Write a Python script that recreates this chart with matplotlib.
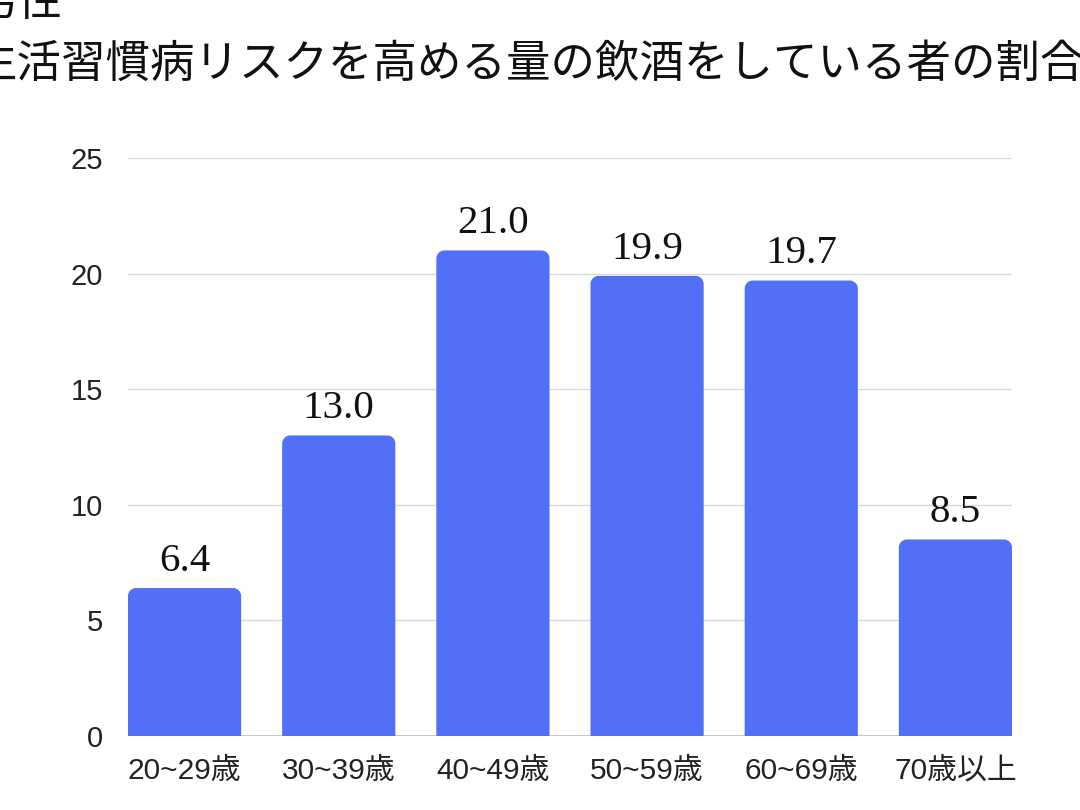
import matplotlib
matplotlib.use("Agg")
import matplotlib.pyplot as plt
from matplotlib.path import Path
from matplotlib.patches import PathPatch

categories = ["20~29歳", "30~39歳", "40~49歳", "50~59歳", "60~69歳", "70歳以上"]
values = [6.4, 13.0, 21.0, 19.9, 19.7, 8.5]
yticks = [0, 5, 10, 15, 20, 25]
title_line1 = "男性"
title_line2 = "生活習慣病リスクを高める量の飲酒をしている者の割合"

BAR_COLOR = "#5170F6"
W, H = 1080, 810
fig = plt.figure(figsize=(W / 100, H / 100), dpi=100)
fig.patch.set_facecolor("white")

left, right, bottom, top = 128, 1012, 736, 158
ax = fig.add_axes([left / W, (H - bottom) / H, (right - left) / W, (bottom - top) / H])

x = list(range(len(categories)))
bars = ax.bar(x, values, width=0.734, color=BAR_COLOR, zorder=2)
ax.set_xlim(-0.367, len(categories) - 1 + 0.367)
ax.set_ylim(0, 25)

# rounded top corners
px_per_x = (right - left) / (len(categories) - 1 + 0.734)
px_per_y = (bottom - top) / 25.0
rpx = 8
rx = rpx / px_per_x
ry = rpx / px_per_y
k = 0.5523
for b in bars:
    x0 = b.get_x()
    x1 = x0 + b.get_width()
    h = b.get_height()
    verts = [(x0, 0), (x0, h - ry), (x0, h - ry + k * ry), (x0 + rx - k * rx, h), (x0 + rx, h),
             (x1 - rx, h), (x1 - rx + k * rx, h), (x1, h - ry + k * ry), (x1, h - ry),
             (x1, 0), (x0, 0)]
    codes = [Path.MOVETO, Path.LINETO, Path.CURVE4, Path.CURVE4, Path.CURVE4,
             Path.LINETO, Path.CURVE4, Path.CURVE4, Path.CURVE4, Path.LINETO, Path.CLOSEPOLY]
    ax.add_patch(PathPatch(Path(verts, codes), facecolor=BAR_COLOR, edgecolor="none", zorder=2))
    b.set_visible(False)

for xi, v in zip(x, values):
    ax.annotate(f"{v:.1f}", (xi, v), xytext=(0, 6), textcoords="offset points",
                ha="center", va="bottom", fontsize=29.5, family=["Liberation Serif"],
                color="#111111")

ax.set_axisbelow(True)
ax.set_yticks(yticks)
ax.yaxis.grid(True, color="#dadada", linewidth=1.0, zorder=0)
ax.axhline(0, color="#c4c4c4", linewidth=1.3, zorder=1)
for s in ax.spines.values():
    s.set_visible(False)

tick_font = ["Liberation Sans", "Noto Sans CJK JP"]
ax.set_xticks(x)
ax.set_xticklabels(categories, family=tick_font, fontsize=21.5, color="#222222")
ax.set_yticklabels([str(t) for t in yticks], family=tick_font, fontsize=21, color="#222222")
ax.tick_params(axis="x", length=0, pad=15)
ax.tick_params(axis="y", length=0, pad=18)

fig.text(-27 / W, 1 - 15 / H, title_line1, fontsize=32, family=["Noto Sans CJK JP"],
         va="baseline", ha="left", color="#111111")
fig.text(-27 / W, 1 - 77 / H, title_line2, fontsize=32, family=["Noto Sans CJK JP"],
         va="baseline", ha="left", color="#111111")

fig.savefig("out.png", dpi=100, facecolor="white")
